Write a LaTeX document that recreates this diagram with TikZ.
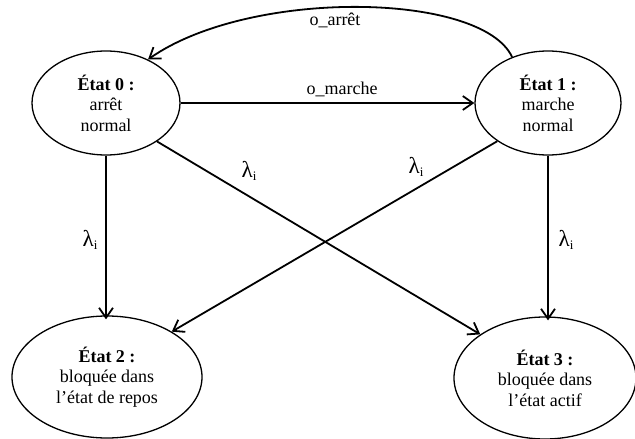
\documentclass[tikz,border=0pt]{standalone}
\usepackage{fontspec}
\setmainfont{Liberation Serif}
\usetikzlibrary{arrows.meta,shapes.geometric}
\tikzset{
  stateell/.style={draw, ellipse, line width=1.3pt, inner sep=0pt, align=center,
    font=\fontsize{18}{20.5}\selectfont},
  conn/.style={line width=1.8pt, -{Straight Barb[length=10pt,width=14pt,line width=1.8pt]}},
  lbl/.style={inner sep=0pt, font=\fontsize{18}{20}\selectfont},
}
\newcommand{\lami}{{\fontsize{23}{25}\selectfont λ}{\fontsize{13}{14}\selectfont\raisebox{-3.5pt}{i}}}
\begin{document}
\begin{tikzpicture}[x=1pt,y=-1pt]
\useasboundingbox (0,0) rectangle (635,439);
\node[stateell, minimum width=148pt, minimum height=104pt] (e0) at (106,103) {\textbf{État 0 :}\\arrêt\\normal};
\node[stateell, minimum width=146pt, minimum height=104pt] (e1) at (548,103) {\textbf{État 1 :}\\marche\\normal};
\node[stateell, minimum width=190pt, minimum height=122pt] (e2) at (107,377) {\textbf{État 2 :}\\bloquée dans\\l’état de repos};
\node[stateell, minimum width=182pt, minimum height=122pt] (e3) at (545,378) {\textbf{État 3 :}\\bloquée dans\\l’état actif};

\draw[conn] (e0.east) -- (e1.west) node[lbl, pos=0.55, above=5pt] (lm) {o\_marche};
\draw[conn] (e1.128) .. controls (482,-8) and (250,-12) .. (e0.46);
\node[lbl] (la) at (335,20) {o\_arrêt};

\draw[conn] (e0.south) -- ([yshift=-4pt]e0.south |- e2.north);
\draw[conn] (e1.south) -- ([yshift=-4pt]e1.south |- e3.north);
\draw[conn] (e0.-37) -- (e3.146);
\draw[conn] (e1.-143) -- (e2.35);

\node[lbl] (l1) at (90,240) {\lami};
\node[lbl] (l2) at (566,240) {\lami};
\node[lbl] (l3) at (249,171) {\lami};
\node[lbl] (l4) at (416,167) {\lami};
\end{tikzpicture}
\end{document}
